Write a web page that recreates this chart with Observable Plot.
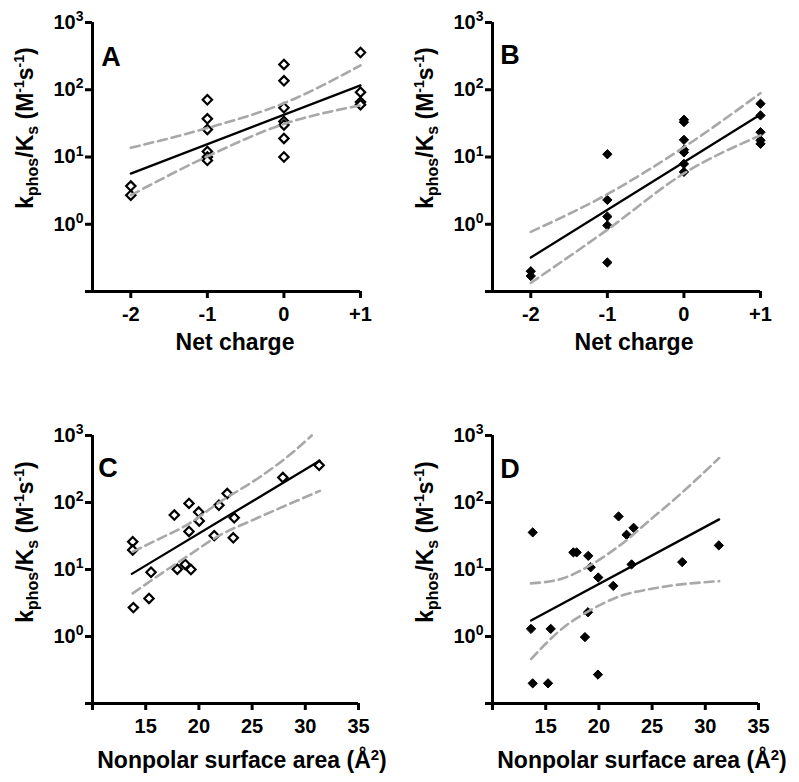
<!DOCTYPE html>
<html><head><meta charset="utf-8">
<script src="https://cdn.jsdelivr.net/npm/d3@7"></script>
<script src="https://cdn.jsdelivr.net/npm/@observablehq/plot@0.6"></script>
<style>
body{margin:0;background:#fff;}
#wrap{position:relative;width:799px;height:782px;overflow:hidden;font-family:"Liberation Sans",Arial,sans-serif;}
.panel{position:absolute;}
</style></head><body><div id="wrap"></div><script>
// ---- tick labels ----
const chargeTicks = [-2, -1, 0, 1];
const chargeTickLabels = ["-2", "-1", "0", "+1"];
const areaTicks = [10, 15, 20, 25, 30, 35];
const areaTickLabels = ["", "15", "20", "25", "30", "35"];
const yTicks = [0.1, 1, 10, 100, 1000];
const yTickExponents = ["", "0", "1", "2", "3"];

// ---- Panel A: net charge vs kphos/Ks (open diamonds) ----
const aCharge = [-2, -2, -1, -1, -1, -1, -1, -1, 0, 0, 0, 0, 0, 0, 0, 1, 1, 1, 1];
const aK = [3.7, 2.7, 71, 37, 25.7, 12.1, 10, 8.9, 238, 136, 54, 33.8, 30, 18.9, 10, 358, 92, 65.5, 60];
const aFitX = [-2, 1];
const aFitY = [5.65, 116];
const aUpperX = [-2, -1, 0, 1];
const aUpperY = [13.7, 27, 63, 230];
const aLowerX = [-2, -1, 0, 1];
const aLowerY = [2.7, 10.2, 31, 58.5];

// ---- Panel B: net charge (filled diamonds) ----
const bCharge = [-2, -2, -1, -1, -1, -1, -1, 0, 0, 0, 0, 0, 0, 0, 1, 1, 1, 1, 1];
const bK = [0.2, 0.17, 11, 2.3, 1.3, 0.96, 0.27, 35.8, 33, 18, 12.8, 11.7, 7.9, 6.0, 62, 41.5, 23.4, 17.7, 15.7];
const bFitX = [-2, 1];
const bFitY = [0.32, 43];
const bUpperX = [-2, -1, 0, 1];
const bUpperY = [0.77, 2.8, 14, 89];
const bLowerX = [-2, -1, 0, 1];
const bLowerY = [0.134, 0.83, 5.7, 21];

// ---- Panel C: nonpolar surface area (open diamonds) ----
const cArea = [13.78, 13.78, 13.84, 15.31, 15.5, 17.69, 17.97, 18.72, 19.25, 19.07, 19.07, 19.98, 20.03, 21.44, 21.88, 22.66, 23.32, 23.23, 27.89, 31.3];
const cK = [26, 19.5, 2.7, 3.7, 9.1, 65, 10.1, 11.9, 10, 97, 37, 72, 53, 32, 91, 136, 59, 29.7, 236, 359];
const cFitX = [13.7, 31.35];
const cFitY = [8.6, 420];
const cUpperX = [13.78, 16.03, 18.85, 21.98, 25.73, 28.86, 30.6];
const cUpperY = [18.4, 27.5, 46, 102, 240, 566, 1000];
const cLowerX = [13.78, 16.03, 18.85, 21.98, 25.1, 31.37];
const cLowerY = [4.4, 7.8, 15.5, 32.6, 55, 149];

// ---- Panel D: nonpolar surface area (filled diamonds) ----
const dArea = [13.78, 13.62, 13.78, 15.22, 15.47, 17.6, 17.91, 19.0, 19.23, 19.94, 18.97, 18.69, 19.91, 21.35, 21.85, 22.6, 23.26, 23.07, 27.83, 31.27];
const dK = [35.8, 1.3, 0.2, 0.2, 1.3, 18, 18, 16, 10.8, 7.6, 2.3, 0.98, 0.27, 5.7, 62, 33, 41.9, 11.9, 12.9, 22.9];
const dFitX = [13.62, 31.3];
const dFitY = [1.73, 56];
const dUpperX = [13.62, 16.65, 19.16, 21.98, 25.1, 27.0, 31.3];
const dUpperY = [6.2, 7.4, 11.5, 23, 60, 108, 461];
const dLowerX = [13.62, 16.65, 19.16, 21.98, 25.1, 27.0, 31.3];
const dLowerY = [0.46, 1.35, 2.45, 4.0, 5.2, 5.8, 6.7];

const zip = (xs, ys) => xs.map((x, i) => ({x, y: ys[i]}));

function panel(cfg) {
  const pts = zip(cfg.xs, cfg.ys);
  const fit = zip(cfg.fitX, cfg.fitY);
  const up = zip(cfg.upX, cfg.upY);
  const lo = zip(cfg.loX, cfg.loY);
  const tickLabel = new Map(cfg.xTicks.map((t, i) => [t, cfg.xTickLabels[i]]));
  const yLabel = new Map(yTicks.map((t, i) => [t, yTickExponents[i]]));
  const band = {x: "x", y: "y", stroke: "#a8a8a8", strokeWidth: 2.6, strokeDasharray: "9,5", curve: "monotone-x"};
  const svg = Plot.plot({
    width: cfg.width, height: cfg.height,
    marginTop: cfg.mt, marginBottom: cfg.mb, marginLeft: 92, marginRight: cfg.mr,
    style: {fontFamily: "'Liberation Sans', Arial, sans-serif", fontWeight: "bold", fontSize: "20px", color: "#000", background: "#fff", overflow: "visible"},
    x: {domain: cfg.xDomain, label: null, axis: null},
    y: {type: "log", domain: [0.1, 1000], label: null, axis: null},
    marks: [
      Plot.dot(pts, {x: "x", y: "y", symbol: "diamond2", r: 4.2, stroke: "#000", strokeWidth: cfg.filled ? 1 : 2.2, fill: cfg.filled ? "#000" : "#fff"}),
      Plot.line(up, band),
      Plot.line(lo, band),
      Plot.line(fit, {x: "x", y: "y", stroke: "#000", strokeWidth: 2.3}),
      Plot.ruleX([cfg.xDomain[0]], {y1: 0.1, y2: 1000, stroke: "#000", strokeWidth: 3}),
      Plot.ruleY([0.1], {x1: cfg.xDomain[0], x2: cfg.xDomain[1], stroke: "#000", strokeWidth: 3}),
      Plot.axisY(yTicks, {tickSize: 7, tickPadding: 2, strokeWidth: 3, fontSize: 20, tickFormat: d => { const e = yLabel.get(d); return e === "" ? "" : "10|" + e; }}),
      Plot.axisX(cfg.xTicks, {tickSize: 7, tickPadding: 8, strokeWidth: 3, fontSize: 20, tickFormat: d => tickLabel.get(d)})
    ]
  });
  const s = d3.select(svg);
  // superscripts on the log axis labels
  s.selectAll("text").each(function() {
    const t = this.textContent;
    if (t.includes("|")) {
      const [base, exp] = t.split("|");
      const el = d3.select(this);
      el.text("");
      el.append("tspan").text(base);
      el.append("tspan").attr("dy", "-0.55em").attr("font-size", "14px").text(exp);
    }
  });
  // y label
  const yl = s.append("text")
    .attr("transform", `translate(33,${cfg.ylY}) rotate(-90)`)
    .attr("text-anchor", "middle").attr("font-size", 23).attr("font-weight", "bold").attr("fill", "#000");
  yl.append("tspan").text("k");
  yl.append("tspan").attr("font-size", 16).attr("dy", 5).text("phos");
  yl.append("tspan").attr("dy", -5).text("/K");
  yl.append("tspan").attr("font-size", 16).attr("dy", 5).text("s");
  yl.append("tspan").attr("dy", -5).text("\u00a0(M");
  yl.append("tspan").attr("font-size", 14).attr("dy", -9).text("-1");
  yl.append("tspan").attr("dy", 9).text("s");
  yl.append("tspan").attr("font-size", 14).attr("dy", -9).text("-1");
  yl.append("tspan").attr("dy", 9).text(")");
  // x label
  const xl = s.append("text").attr("x", cfg.xlX).attr("y", cfg.xlY)
    .attr("text-anchor", "middle").attr("font-size", 23).attr("font-weight", "bold").attr("fill", "#000");
  if (cfg.area) {
    xl.append("tspan").text("Nonpolar surface area (\u00c5");
    xl.append("tspan").attr("font-size", 15).attr("dy", -8).text("2");
    xl.append("tspan").attr("dy", 8).text(")");
  } else {
    xl.text("Net charge");
  }
  // panel letter
  s.append("text").attr("x", cfg.letterX).attr("y", cfg.letterY)
    .attr("font-size", 27).attr("font-weight", "bold").attr("fill", "#000").text(cfg.letter);
  const div = document.createElement("div");
  div.className = "panel";
  div.style.left = cfg.left + "px";
  div.style.top = cfg.top + "px";
  div.appendChild(svg);
  document.getElementById("wrap").appendChild(div);
}

panel({letter: "A", left: 0, top: 0, width: 400, height: 390, mt: 22, mb: 99, mr: 40,
  xs: aCharge, ys: aK, fitX: aFitX, fitY: aFitY, upX: aUpperX, upY: aUpperY, loX: aLowerX, loY: aLowerY,
  xDomain: [-2.5, 1], xTicks: chargeTicks, xTickLabels: chargeTickLabels, filled: false, area: false,
  ylY: 128, xlX: 235, xlY: 350, letterX: 111, letterY: 66});
panel({letter: "B", left: 400, top: 0, width: 399, height: 390, mt: 22, mb: 99, mr: 39,
  xs: bCharge, ys: bK, fitX: bFitX, fitY: bFitY, upX: bUpperX, upY: bUpperY, loX: bLowerX, loY: bLowerY,
  xDomain: [-2.5, 1], xTicks: chargeTicks, xTickLabels: chargeTickLabels, filled: true, area: false,
  ylY: 128, xlX: 234, xlY: 350, letterX: 110, letterY: 64});
panel({letter: "C", left: 0, top: 390, width: 400, height: 392, mt: 45, mb: 79, mr: 42,
  xs: cArea, ys: cK, fitX: cFitX, fitY: cFitY, upX: cUpperX, upY: cUpperY, loX: cLowerX, loY: cLowerY,
  xDomain: [10, 35], xTicks: areaTicks, xTickLabels: areaTickLabels, filled: false, area: true,
  ylY: 152, xlX: 242, xlY: 378, letterX: 108, letterY: 87});
panel({letter: "D", left: 400, top: 390, width: 399, height: 392, mt: 45, mb: 79, mr: 41,
  xs: dArea, ys: dK, fitX: dFitX, fitY: dFitY, upX: dUpperX, upY: dUpperY, loX: dLowerX, loY: dLowerY,
  xDomain: [10, 35], xTicks: areaTicks, xTickLabels: areaTickLabels, filled: true, area: true,
  ylY: 152, xlX: 242, xlY: 378, letterX: 110, letterY: 88});
</script></body></html>
